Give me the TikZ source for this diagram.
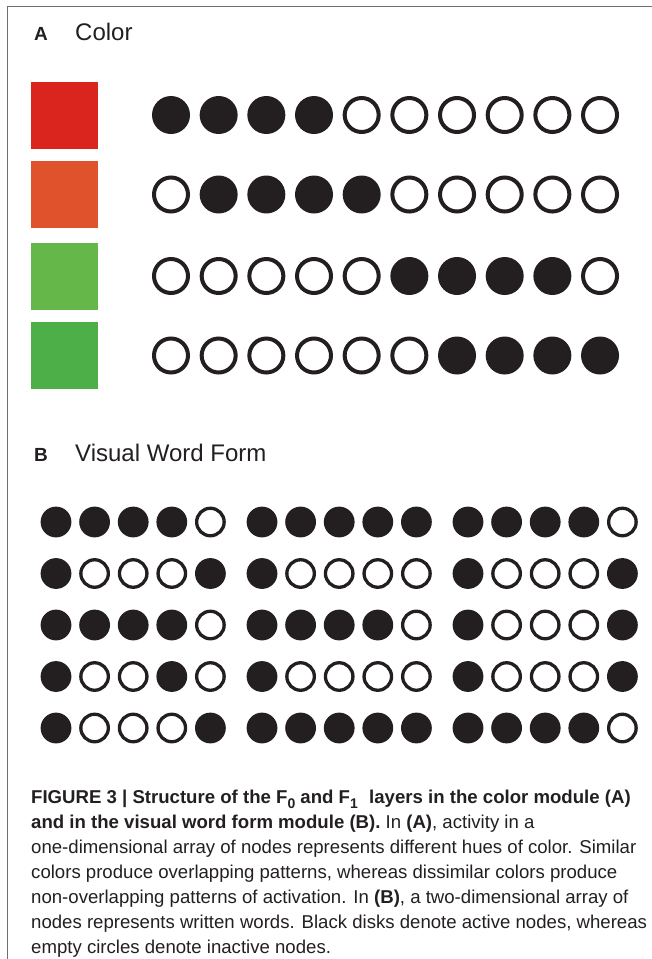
\documentclass[tikz,border=0pt]{standalone}
\usepackage{fontspec}
\setmainfont{Liberation Sans}
\usepackage{tikz}
\usetikzlibrary{positioning}

\definecolor{ink}{HTML}{231F20}
\definecolor{rule}{HTML}{6E6E6E}
\definecolor{hueRed}{HTML}{D9251D}
\definecolor{hueOrange}{HTML}{E0522B}
\definecolor{hueLime}{HTML}{65B749}
\definecolor{hueGreen}{HTML}{4DAF47}

\newcommand{\lowdigit}[1]{\raisebox{-0.28em}{\fontsize{14}{14}\selectfont #1}}

\tikzset{
  act/.style={circle, fill=ink, inner sep=0pt, minimum size=38pt},
  idle/.style={circle, draw=ink, line width=4pt, inner sep=0pt, minimum size=34pt},
  bact/.style={circle, fill=ink, inner sep=0pt, minimum size=30.8pt},
  bidle/.style={circle, draw=ink, line width=3.3pt, inner sep=0pt, minimum size=27.5pt},
  hue/.style={inner sep=0pt, minimum size=67pt},
  panel/.style={anchor=base west, inner sep=0pt, text=ink, font=\bfseries\fontsize{19}{19}\selectfont},
  heading/.style={anchor=base west, inner sep=0pt, text=ink, font=\fontsize{24}{24}\selectfont},
}

\begin{document}
\begin{tikzpicture}[x=1pt,y=-1pt]
            \useasboundingbox (0,0) rectangle (652,959);
            \draw[rule, line width=1.5pt] (7.5,959) -- (7.5,6.5) -- (652,6.5);
            % panel A
            \node[panel] (labA) at (34,40.5) {A};
            \node[heading] (titA) at (75,40.5) {Color};
            \node[hue, fill=hueRed] (sq1) at (64.5,115) {};
            \node[hue, fill=hueOrange] (sq2) at (64.5,194.5) {};
            \node[hue, fill=hueLime] (sq3) at (64.5,276) {};
            \node[hue, fill=hueGreen] (sq4) at (64.5,355.5) {};
            \foreach \r/\y/\row in {
                1/115/{act,act,act,act,idle,idle,idle,idle,idle,idle},
                2/194.5/{idle,act,act,act,act,idle,idle,idle,idle,idle},
                3/276/{idle,idle,idle,idle,idle,act,act,act,act,idle},
                4/355.5/{idle,idle,idle,idle,idle,idle,act,act,act,act}}
              \foreach \s [count=\i] in \row
                \node[\s] (a\r-\i) at ({171+47.67*(\i-1)},\y) {};
            % panel B
            \node[panel] (labB) at (34,461) {B};
            \node[heading] (titB) at (75,461) {Visual Word Form};
            \foreach \r/\y/\row in {
                1/522/{bact,bact,bact,bact,bidle, bact,bact,bact,bact,bact, bact,bact,bact,bact,bidle},
                2/573.5/{bact,bidle,bidle,bidle,bact, bact,bidle,bidle,bidle,bidle, bact,bidle,bidle,bidle,bact},
                3/625/{bact,bact,bact,bact,bidle, bact,bact,bact,bact,bidle, bact,bidle,bidle,bidle,bact},
                4/676.5/{bact,bidle,bidle,bact,bidle, bact,bidle,bidle,bidle,bidle, bact,bidle,bidle,bidle,bact},
                5/728/{bact,bidle,bidle,bidle,bact, bact,bact,bact,bact,bact, bact,bact,bact,bact,bidle}}
              \foreach \s [count=\i] in \row
                \node[\s] (b\r-\i) at ({56+38.6*mod(\i-1,5)+206*floor((\i-1)/5)},\y) {};
            % caption (base = last line)
            \node[anchor=base west, align=left, inner sep=0pt, text=ink,
                  font=\fontsize{18.6}{25}\selectfont] (cap) at (31,953.3)
              {\textbf{FIGURE 3 | Structure of the F\lowdigit{0} and F\lowdigit{1}\,\, layers in the color module (A)}\\
               \textbf{and in the visual word form module (B).} In \textbf{(A)}, activity in a\\
               one-dimensional array of nodes represents different hues of color. Similar\\
               colors produce overlapping patterns, whereas dissimilar colors produce\\
               non-overlapping patterns of activation. In \textbf{(B)}, a two-dimensional array of\\
               nodes represents written words. Black disks denote active nodes, whereas\\
               empty circles denote inactive nodes.};
        \end{tikzpicture}
\end{document}
